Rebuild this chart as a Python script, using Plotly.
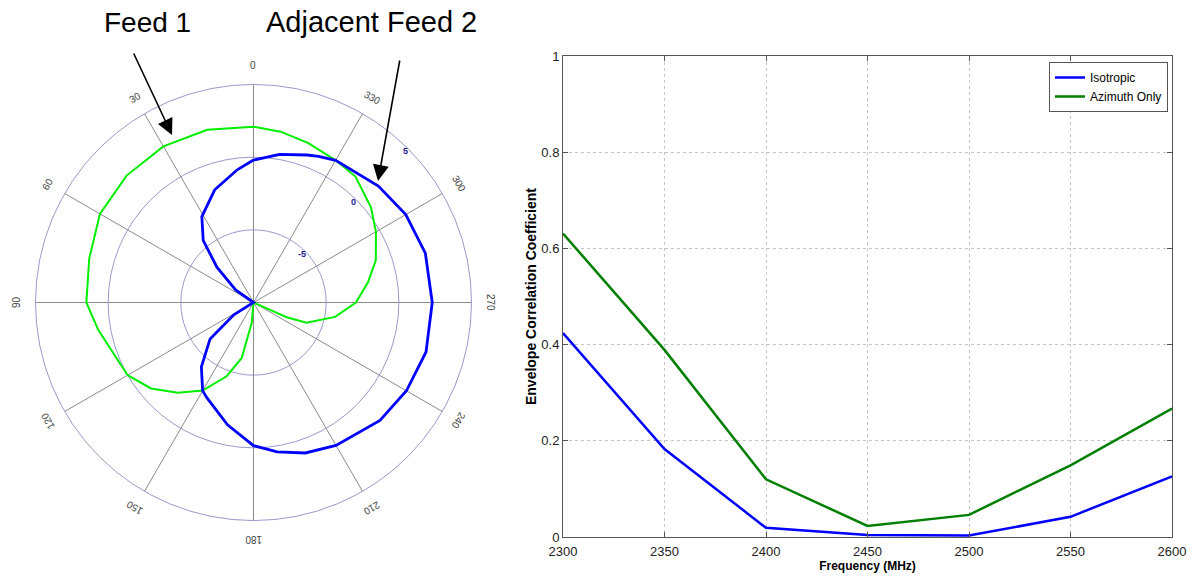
import math
import plotly.graph_objects as go

# ---------------- Left: radiation patterns (dB) vs azimuth angle (deg) ----------------
feed1_theta = [0, 15, 30, 45, 60, 75, 90, 100, 120, 130, 140, 150, 160, 168, 175, 180,
               240, 246, 249, 260, 270, 280, 289, 300, 309, 321, 330, 341, 351, 360]
feed1_db = [2.1, 2.3, 2.4, 2.35, 2.2, 1.7, 1.5, 0.85, 0.0, -0.8, -1.9, -3.0, -4.6, -6.1, -8.6, -10,
            -10, -7.5, -6.1, -4.3, -2.95, -2.0, -1.1, -0.27, 0.4, 1.15, 1.3, 1.6, 1.9, 2.1]

feed2_theta = [0, 7, 19, 31, 39, 46, 55, 60, 115, 122, 130, 141, 150, 154, 168, 180,
               189, 199, 210, 227, 240, 254, 270, 286, 300, 313, 330, 336, 340, 350, 360]
feed2_db = [-0.2, -0.8, -1.8, -3.1, -4.5, -6.5, -8.5, -10, -10, -8.4, -6.1, -4.3, -3.0, -2.7, -1.4, -0.15,
            0.4, 0.95, 1.35, 1.9, 2.15, 2.35, 2.3, 2.3, 2.1, 1.75, 1.3, 1.0, 0.8, 0.35, -0.2]

angle_ticks = [0, 30, 60, 90, 120, 150, 180, 210, 240, 270, 300, 330]
radial_ticks = [-5, 0, 5]
radial_range = [-10, 5]
radial_label_angle = 315

# ---------------- Right: envelope correlation ----------------
freq_mhz = [2300, 2350, 2400, 2450, 2500, 2550, 2600]
isotropic = [0.424, 0.183, 0.019, 0.004, 0.003, 0.042, 0.126]
azimuth_only = [0.631, 0.389, 0.120, 0.023, 0.046, 0.149, 0.267]
y_ticks = [0, 0.2, 0.4, 0.6, 0.8, 1]
y_ticktext = ["0", "0.2", "0.4", "0.6", "0.8", "1"]

W, H = 1193, 577
FONT = "Liberation Sans, Arial, sans-serif"

fig = go.Figure()

fig.add_trace(go.Scatterpolar(r=feed1_db, theta=feed1_theta, mode="lines",
                              line=dict(color="#00ee00", width=2), showlegend=False,
                              name="Feed 1"))
fig.add_trace(go.Scatterpolar(r=feed2_db, theta=feed2_theta, mode="lines",
                              line=dict(color="#0000ff", width=2.8), showlegend=False,
                              name="Adjacent Feed 2"))

fig.add_trace(go.Scatter(x=freq_mhz, y=isotropic, mode="lines", name="Isotropic",
                         line=dict(color="#0000ff", width=2.5), xaxis="x", yaxis="y"))
fig.add_trace(go.Scatter(x=freq_mhz, y=azimuth_only, mode="lines", name="Azimuth Only",
                         line=dict(color="#007f00", width=2.5), xaxis="x", yaxis="y"))

# polar geometry (pixels)
cx, cy, R = 253.5, 302.5, 218
pdom_x = [(cx - R) / W, (cx + R) / W]
pdom_y = [(H - (cy + R)) / H, (H - (cy - R)) / H]

annotations = []
# angular tick labels, rotated tangentially
LR = 237
for a in angle_ticks:
    t = math.radians(a)
    px = cx - LR * math.sin(t)
    py = cy - LR * math.cos(t)
    annotations.append(dict(x=px / W, y=(H - py) / H, xref="paper", yref="paper",
                            text=str(a), showarrow=False, textangle=-a,
                            font=dict(family=FONT, size=10, color="#444444"),
                            xanchor="center", yanchor="middle"))

# radial tick labels placed on the rings along the 315 deg direction
t = math.radians(radial_label_angle)
for v in radial_ticks:
    rp = (v - radial_range[0]) / (radial_range[1] - radial_range[0]) * R
    px = cx - rp * math.sin(t) - 2.5
    py = cy - rp * math.cos(t) + 2.5
    annotations.append(dict(x=px / W, y=(H - py) / H, xref="paper", yref="paper",
                            text="<b>%d</b>" % v, showarrow=False,
                            font=dict(family=FONT, size=9, color="#1a1a8c"),
                            xanchor="center", yanchor="middle"))

# callout labels
annotations.append(dict(x=147 / W, y=(H - 22) / H, xref="paper", yref="paper", text="Feed 1",
                        showarrow=False, font=dict(family=FONT, size=28, color="black"),
                        xanchor="center", yanchor="middle"))
annotations.append(dict(x=371 / W, y=(H - 22) / H, xref="paper", yref="paper", text="Adjacent Feed 2",
                        showarrow=False, font=dict(family=FONT, size=29, color="black"),
                        xanchor="center", yanchor="middle"))
# arrows
annotations.append(dict(x=172 / W, y=(H - 135) / H, xref="paper", yref="paper", text="",
                        showarrow=True, ax=-39, ay=-83, arrowhead=2, arrowsize=2,
                        arrowwidth=1.6, arrowcolor="black"))
annotations.append(dict(x=378 / W, y=(H - 181) / H, xref="paper", yref="paper", text="",
                        showarrow=True, ax=22, ay=-122, arrowhead=2, arrowsize=2,
                        arrowwidth=1.6, arrowcolor="black"))

fig.update_layout(
    width=W, height=H,
    margin=dict(l=0, r=0, t=0, b=0, pad=0, autoexpand=False),
    paper_bgcolor="white", plot_bgcolor="white",
    font=dict(family=FONT, size=12, color="black"),
    polar=dict(
        domain=dict(x=pdom_x, y=pdom_y),
        bgcolor="white",
        angularaxis=dict(rotation=90, direction="counterclockwise",
                         tickmode="array", tickvals=angle_ticks, showticklabels=False,
                         ticks="", showgrid=True, gridcolor="#8a8a8a", gridwidth=1,
                         showline=True, linecolor="#9999cc", linewidth=1),
        radialaxis=dict(range=radial_range, tickmode="array", tickvals=radial_ticks,
                        angle=45, showticklabels=False, showline=False, ticks="",
                        showgrid=True, gridcolor="#9999cc", gridwidth=1),
    ),
    xaxis=dict(domain=[563 / W, 1172 / W], range=[2300, 2600], tickmode="array",
               tickvals=freq_mhz, ticks="inside", ticklen=5, tickcolor="#555",
               showline=True, linecolor="#555", mirror="ticks", linewidth=1,
               showgrid=True, gridcolor="#c4c4c4", griddash="dot", zeroline=False,
               tickfont=dict(family=FONT, size=13, color="#222"), automargin=False,
               ticklabelstandoff=2,
               title=dict(text="<b>Frequency (MHz)</b>", font=dict(family=FONT, size=12), standoff=2),
               anchor="y"),
    yaxis=dict(domain=[(H - 537) / H, (H - 56) / H], range=[0, 1], tickmode="array",
               tickvals=y_ticks, ticktext=y_ticktext, ticks="inside", ticklen=5, tickcolor="#555",
               showline=True, linecolor="#555", mirror="ticks", linewidth=1,
               showgrid=True, gridcolor="#c4c4c4", griddash="dot", zeroline=False,
               tickfont=dict(family=FONT, size=13, color="#222"), automargin=False,
               title=dict(text="<b>Envelope Correlation Coefficient</b>", font=dict(family=FONT, size=14), standoff=1),
               anchor="x"),
    legend=dict(x=1168 / W, y=(H - 62) / H, xanchor="right", yanchor="top",
                bgcolor="white", bordercolor="#555", borderwidth=1,
                font=dict(family=FONT, size=12), tracegroupgap=0, itemwidth=30),
    annotations=annotations,
    showlegend=True,
)

fig.write_html("out.html", config={"displayModeBar": False},
               post_script="document.body.style.margin='0';document.body.style.overflow='hidden';")
